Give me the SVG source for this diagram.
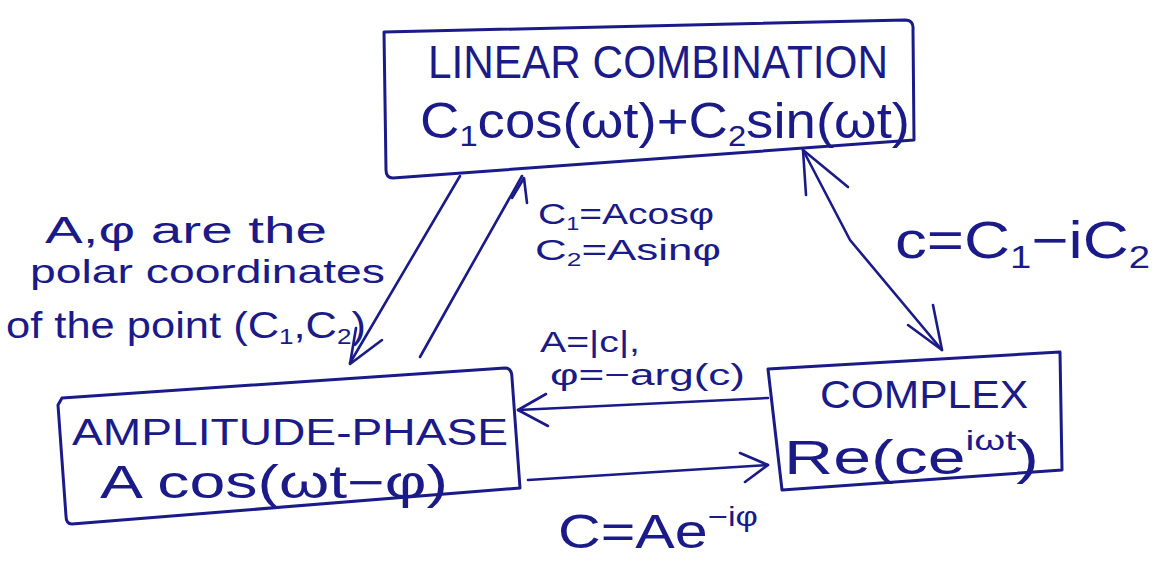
<svg xmlns="http://www.w3.org/2000/svg" width="1161" height="563" viewBox="0 0 1161 563">
<style>
.b{fill:none;stroke:#1a1a88;stroke-width:3;stroke-linecap:round;stroke-linejoin:round}
.c{fill:none;stroke:#1a1a88;stroke-width:2.6;stroke-linecap:round;stroke-linejoin:round}
text{font-family:"Liberation Sans","DejaVu Sans",sans-serif;fill:#1a1a88}
.s{font-size:0.6em}
</style>
<rect width="1161" height="563" fill="#fff"/>
<g id="linear">
<path class="b" d="M384,32 L905,20 Q914,20 913,30 L914,140 L393,178 Q386,178 386,170 Z"/>
<text x="428" y="78" font-size="46" textLength="460" lengthAdjust="spacingAndGlyphs">LINEAR COMBINATION</text>
<text x="420" y="138" font-size="50" textLength="490" lengthAdjust="spacingAndGlyphs">C<tspan class="s" dy="8">1</tspan><tspan dy="-8">cos(ωt)+C</tspan><tspan class="s" dy="8">2</tspan><tspan dy="-8">sin(ωt)</tspan></text>
</g>
<g id="amplitude">
<path class="b" d="M62,398 L505,368 Q512,368 512,378 L520,488 L72,524 Q66,524 66,516 L58,405 Z"/>
<text x="72" y="445" font-size="36" textLength="436" lengthAdjust="spacingAndGlyphs">AMPLITUDE-PHASE</text>
<text x="100" y="498" font-size="46" textLength="348" lengthAdjust="spacingAndGlyphs">A cos(ωt−φ)</text>
</g>
<g id="complex">
<path class="b" d="M768,369 L1060,352 L1062,470 L782,490 Z"/>
<text x="820" y="408" font-size="38" textLength="208" lengthAdjust="spacingAndGlyphs">COMPLEX</text>
<text x="784" y="474" font-size="48" textLength="255" lengthAdjust="spacingAndGlyphs">Re(ce<tspan font-size="28" dy="-24">iωt</tspan><tspan dy="24">)</tspan></text>
</g>
<g id="labels">
<text x="45" y="243" font-size="36" textLength="282" lengthAdjust="spacingAndGlyphs">A,φ are the</text>
<text x="30" y="283" font-size="34" textLength="355" lengthAdjust="spacingAndGlyphs">polar coordinates</text>
<text x="6" y="338" font-size="36" textLength="360" lengthAdjust="spacingAndGlyphs">of the point (C<tspan class="s" dy="6">1</tspan><tspan dy="-6">,C</tspan><tspan class="s" dy="6">2</tspan><tspan dy="-6">)</tspan></text>
<text x="538" y="224" font-size="30" textLength="176" lengthAdjust="spacingAndGlyphs">C<tspan class="s" dy="6">1</tspan><tspan dy="-6">=Acosφ</tspan></text>
<text x="535" y="260" font-size="30" textLength="186" lengthAdjust="spacingAndGlyphs">C<tspan class="s" dy="6">2</tspan><tspan dy="-6">=Asinφ</tspan></text>
<text x="895" y="258" font-size="52" textLength="255" lengthAdjust="spacingAndGlyphs">c=C<tspan class="s" dy="10">1</tspan><tspan dy="-10">−iC</tspan><tspan class="s" dy="10">2</tspan></text>
<text x="540" y="352" font-size="30" textLength="100" lengthAdjust="spacingAndGlyphs">A=|c|,</text>
<text x="550" y="385" font-size="30" textLength="195" lengthAdjust="spacingAndGlyphs">φ=−arg(c)</text>
<text x="558" y="548" font-size="48" textLength="200" lengthAdjust="spacingAndGlyphs">C=Ae<tspan font-size="28" dy="-22">−iφ</tspan></text>
</g>
<g id="connectors">
<path class="c" d="M460,176 L350,363"/>
<path class="c" d="M356,328 L350,364 L382,340"/>
<path class="c" d="M420,357 L452,300 L522,176"/>
<path class="c" d="M512,198 L524,178 L527,203"/>
<path class="c" d="M803,150 L850,240 L942,350"/>
<path class="c" d="M806,195 L803,150 L848,187"/>
<path class="c" d="M933,305 L942,350 L908,325"/>
<path class="c" d="M768,398 L518,410"/>
<path class="c" d="M546,394 L518,410 L548,426"/>
<path class="c" d="M528,480 L768,465"/>
<path class="c" d="M740,453 L768,465 L745,482"/>
</g>
</svg>
